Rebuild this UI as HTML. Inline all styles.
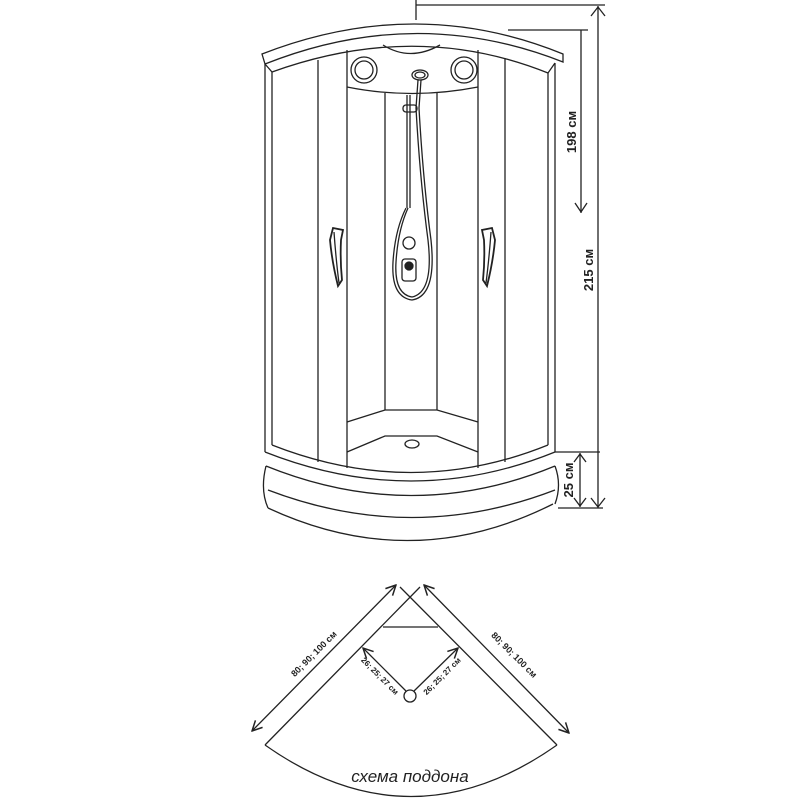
<!DOCTYPE html>
<html><head><meta charset="utf-8"><style>html,body{margin:0;padding:0;background:#fff}svg{display:block}</style></head>
<body>
<svg width="800" height="800" viewBox="0 0 800 800" xmlns="http://www.w3.org/2000/svg" fill="none" stroke="#222" stroke-width="1.3" font-family="Liberation Sans, sans-serif">
<defs>
<marker id="a" viewBox="0 0 12 12" refX="11" refY="6" markerWidth="12" markerHeight="12" markerUnits="userSpaceOnUse" orient="auto-start-reverse">
<polyline points="1,1 11,6 1,11" fill="none" stroke="#222" stroke-width="1.5"/>
</marker>
</defs>
<line x1="416" y1="0" x2="416" y2="20"/>
<line x1="416" y1="5" x2="605" y2="5"/>
<line x1="598" y1="6" x2="598" y2="508"/>
<polyline points="591,16 598,7 605,16"/>
<polyline points="591,498 598,507 605,498"/>
<line x1="508" y1="30" x2="588" y2="30"/>
<line x1="581" y1="30" x2="581" y2="213"/>
<polyline points="575,203 581,212 587,203"/>
<line x1="555" y1="452" x2="600" y2="452"/>
<line x1="558" y1="508" x2="603" y2="508"/>
<line x1="580" y1="453" x2="580" y2="507"/>
<polyline points="574,462 580,454 586,462"/>
<polyline points="574,498 580,506 586,498"/>
<g fill="#222" stroke="none" font-weight="bold" font-size="13" text-anchor="middle">
<text transform="translate(576,132) rotate(-90)">198 см</text>
<text transform="translate(593,270) rotate(-90)">215 см</text>
<text transform="translate(573,480) rotate(-90)">25 см</text>
</g>
<path d="M262,54 Q416,-6 563,54 L563,62 Q416,4 265,64 Z"/>
<path d="M265,64 L272,72 Q416,20 548,73 L555,63"/>
<line x1="265" y1="64" x2="265" y2="452"/>
<line x1="272" y1="72" x2="272" y2="445"/>
<line x1="318" y1="60" x2="318" y2="462"/>
<line x1="347" y1="50" x2="347" y2="468"/>
<line x1="385" y1="93" x2="385" y2="410"/>
<line x1="437" y1="93" x2="437" y2="410"/>
<line x1="478" y1="50" x2="478" y2="468"/>
<line x1="505" y1="58" x2="505" y2="462"/>
<line x1="548" y1="73" x2="548" y2="445"/>
<line x1="555" y1="63" x2="555" y2="452"/>
<path d="M347,87 Q412,100 478,87"/>
<path d="M383,45 Q410,62 440,45"/>
<circle cx="364" cy="70" r="13"/><circle cx="364" cy="70" r="9"/>
<circle cx="464" cy="70" r="13"/><circle cx="464" cy="70" r="9"/>
<ellipse cx="420" cy="75" rx="8" ry="5"/><ellipse cx="420" cy="75" rx="5" ry="3"/>
<line x1="407" y1="95" x2="407" y2="208"/><line x1="410" y1="95" x2="410" y2="208"/>
<rect x="403" y="105" width="14" height="7" rx="3"/>
<path d="M418,80 L416,108 Q420,180 428,240 Q434,292 412,297 Q394,294 396,262 Q398,230 408,208"/>
<path d="M421,80 L419,108 Q423,180 431,240 Q437,296 412,300 Q391,297 393,262 Q395,230 406,208"/>
<circle cx="409" cy="243" r="6"/>
<rect x="402" y="259" width="14" height="22" rx="3"/>
<circle cx="409" cy="266" r="4" fill="#222"/>
<path d="M333,228 L343,230 L341,240 Q340,260 342,280 L338,286 Q332,262 330,240 Z" stroke-width="1.8"/>
<path d="M334,232 Q336,260 339,283"/>
<path d="M492,228 L482,230 L484,240 Q485,260 483,280 L487,286 Q493,262 495,240 Z" stroke-width="1.8"/>
<path d="M491,232 Q489,260 486,283"/>
<polyline points="347,422 385,410 437,410 478,422"/>
<polyline points="347,452 385,436 437,436 478,452"/>
<ellipse cx="412" cy="444" rx="7" ry="4"/>
<path d="M272,445 Q412,500 548,445"/>
<path d="M265,452 Q412,510 555,452"/>
<path d="M266,466 Q412,525 555,466"/>
<path d="M266,466 Q260,490 268,508 M555,466 Q562,485 555,504"/>
<path d="M268,490 Q412,545 555,490"/>
<path d="M268,508 Q412,575 553,504"/>
<path d="M265,745 L420,587 M400,587 L557,745"/>
<path d="M265,745 Q411,848 557,745"/>
<line x1="252" y1="731" x2="396" y2="585" marker-start="url(#a)" marker-end="url(#a)"/>
<line x1="424" y1="585" x2="569" y2="733" marker-start="url(#a)" marker-end="url(#a)"/>
<line x1="383" y1="627" x2="438" y2="627"/>
<circle cx="410" cy="696" r="6"/>
<line x1="406" y1="691" x2="363" y2="648" marker-end="url(#a)"/>
<line x1="414" y1="691" x2="458" y2="648" marker-end="url(#a)"/>
<g fill="#222" stroke="none" font-weight="bold" font-size="9" text-anchor="middle">
<text transform="translate(316,656) rotate(-45)">80; 90; 100 см</text>
<text transform="translate(512,657) rotate(45)">80; 90; 100 см</text>
<text transform="translate(378,678) rotate(45)" font-size="8">26; 25; 27 см</text>
<text transform="translate(444,678) rotate(-45)" font-size="8">26; 25; 27 см</text>
</g>
<text x="410" y="782" fill="#222" stroke="none" font-size="17" font-style="italic" text-anchor="middle">схема поддона</text>
</svg>
</body></html>
